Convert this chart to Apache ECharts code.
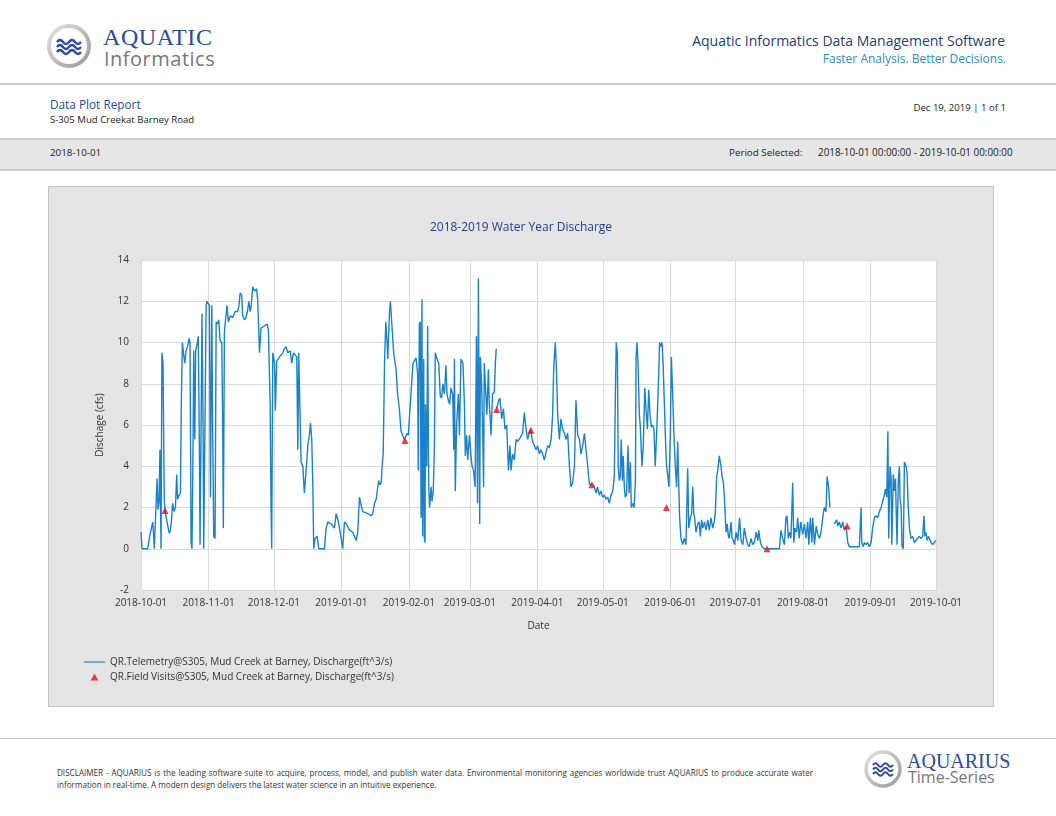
<!DOCTYPE html>
<html>
<head>
<meta charset="utf-8">
<script src="https://cdn.jsdelivr.net/npm/echarts@6/dist/echarts.min.js"></script>
<style>
  body { margin: 0; background: #fff; font-family: "Open Sans", sans-serif; }
  #page { position: relative; width: 1056px; height: 816px; overflow: hidden; }
  .abs { position: absolute; white-space: nowrap; line-height: 1; }
  .hline { position: absolute; left: 0; width: 1056px; background: #c8c8c8; }
  #bar { position: absolute; left: 0; top: 138px; width: 1056px; height: 29px; background: #e6e6e6;
         border-top: 2px solid #cfcfcf; border-bottom: 2px solid #cfcfcf; }
  #chartBox { position: absolute; left: 48px; top: 186px; width: 944px; height: 519px;
              background: #e4e4e4; border: 1px solid #c4c4c4; }
  #main { width: 944px; height: 519px; }
</style>
</head>
<body>
<div id="page">
  <!-- header -->
  <svg class="abs" style="left:44px;top:20px" width="54" height="54">
    <defs>
      <linearGradient id="ring" x1="0" y1="0" x2="1" y2="1">
        <stop offset="0" stop-color="#e2e2e2"/>
        <stop offset="1" stop-color="#9a9a9a"/>
      </linearGradient>
    </defs>
    <circle cx="25" cy="26" r="20" fill="#fff" stroke="url(#ring)" stroke-width="4"/>
    <path d="M13 22 q3 -4 6 0 t6 0 t6 0 t6 0" fill="none" stroke="#2d4b9c" stroke-width="2.4"/>
    <path d="M13 27 q3 -4 6 0 t6 0 t6 0 t6 0" fill="none" stroke="#2d4b9c" stroke-width="2.4"/>
    <path d="M13 32 q3 -4 6 0 t6 0 t6 0 t6 0" fill="none" stroke="#2d4b9c" stroke-width="2.4"/>
  </svg>
  <div class="abs" style="left:103px;top:25px;font-family:'Liberation Serif',serif;font-size:24px;color:#2d4b9c;letter-spacing:0.6px">AQUATIC</div>
  <div class="abs" style="left:104px;top:49px;font-size:20px;color:#777;letter-spacing:0.5px">Informatics</div>
  <div class="abs" style="right:51px;top:34px;font-size:14px;color:#23406e">Aquatic Informatics Data Management Software</div>
  <div class="abs" style="right:50px;top:53px;font-size:12px;color:#2a8cc8">Faster Analysis. Better Decisions.</div>
  <div class="hline" style="top:83px;height:2px"></div>

  <div class="abs" style="left:50px;top:99px;font-size:11.8px;color:#2a4d8f">Data Plot Report</div>
  <div class="abs" style="left:50px;top:115px;font-size:9.6px;color:#222">S-305 Mud Creekat Barney Road</div>
  <div class="abs" style="right:50px;top:103px;font-size:9.6px;color:#222">Dec 19, 2019 | 1 of 1</div>

  <div id="bar"></div>
  <div class="abs" style="left:50px;top:148px;font-size:9.8px;color:#222">2018-10-01</div>
  <div class="abs" style="left:729px;top:148px;font-size:9.8px;color:#222">Period Selected:</div>
  <div class="abs" style="left:818px;top:148px;font-size:9.9px;color:#222">2018-10-01 00:00:00 - 2019-10-01 00:00:00</div>

  <div id="chartBox"><div id="main"></div></div>

  <!-- footer -->
  <div class="hline" style="top:738px;height:1px"></div>
  <div class="abs" style="left:57px;top:767px;font-size:8.1px;color:#333;line-height:12px">
    <div style="width:756px;text-align:justify;text-align-last:justify">DISCLAIMER - AQUARIUS is the leading software suite to acquire, process, model, and publish water data. Environmental monitoring agencies worldwide trust AQUARIUS to produce accurate water</div>
    <div>information in real-time. A modern design delivers the latest water science in an intuitive experience.</div>
  </div>
  <svg class="abs" style="left:861px;top:748px" width="44" height="44">
    <circle cx="22" cy="21" r="17" fill="#fff" stroke="url(#ring)" stroke-width="3.5"/>
    <path d="M12 17 q2.5 -3.5 5 0 t5 0 t5 0 t5 0" fill="none" stroke="#2d4b9c" stroke-width="2"/>
    <path d="M12 21.5 q2.5 -3.5 5 0 t5 0 t5 0 t5 0" fill="none" stroke="#2d4b9c" stroke-width="2"/>
    <path d="M12 26 q2.5 -3.5 5 0 t5 0 t5 0 t5 0" fill="none" stroke="#2d4b9c" stroke-width="2"/>
  </svg>
  <div class="abs" style="left:907px;top:751px;font-family:'Liberation Serif',serif;font-size:20px;color:#2d4b9c">AQUARIUS</div>
  <div class="abs" style="left:908px;top:769px;font-size:16px;color:#777">Time-Series</div>
</div>

<script>
// days since 2018-10-01, discharge (cfs); null = gap in record
var oct18 = [[0,0.8],[0.5,0],[3.1,0],[3.8,0.5],[4.6,0.9],[5.4,1.3],[5.8,0.6],[6.1,0],[6.9,0],[7.4,3.4],[7.8,1.9],[8.3,2.3],[8.7,4.8],[9.2,0],[9.6,9.5],[10.1,9.0],[10.7,2.3],[11.0,1.9],[11.6,1.5],[12.3,1.1],[13.0,0.75],[13.5,0.9],[14.1,1.5],[14.5,2.2],[15.2,1.8],[15.8,2.0],[16.4,3.6],[16.8,2.4],[17.5,2.6],[18.1,2.7],[18.5,7.0],[19.0,10.0],[19.6,9.4],[20.1,9.0],[20.7,9.6],[21.4,9.8],[22.1,10.2],[22.5,10.0],[23.0,0.3],[23.4,0],[23.9,5],[24.2,9.6],[24.7,5.3],[25.1,9.6],[25.7,9.9],[26.3,10.3],[26.8,5],[27.1,0.2],[27.6,6],[28.0,11.4],[28.5,6],[28.8,0],[29.4,0],[29.9,11.8],[30.3,12.0]];
var nov18 = [[30.8,12.0],[31.4,11.8],[31.9,2.5],[32.5,11.8],[32.9,6],[33.4,0.6],[34.0,0.5],[34.5,11.0],[35.2,10.9],[35.7,11.1],[36.3,10.1],[37.1,10.0],[37.5,6],[37.8,1.0],[38.3,10.5],[38.9,11.2],[39.5,11.8],[40.1,11.0],[41.0,11.3],[42.1,11.2],[43.2,11.5],[44.4,11.5],[45.0,11.8],[45.5,12.4],[46.2,12.3],[46.7,11.3],[47.5,11.1],[48.2,11.2],[49.0,11.6],[49.5,12.0],[50.1,11.5],[50.5,11.7],[51.3,12.7],[52.1,12.5],[53.1,12.6],[53.6,12.0],[54.4,9.5],[55.1,10.7],[56.7,10.8],[57.9,10.9],[58.5,10.6],[59.3,7.0],[59.7,2.0],[60.0,0]];
var dec18 = [[60.5,9.5],[61.3,9.0],[61.7,6.7],[62.3,9.1],[63.6,9.3],[65.1,9.5],[65.8,9.7],[66.6,9.8],[67.4,9.5],[68.5,9.6],[69.2,9.0],[70.0,9.5],[70.8,9.5],[71.5,9.3],[72.0,4.8],[72.4,9.5],[73.0,9.5],[73.5,4.2],[74.3,4.0],[75.0,2.7],[75.8,3.8],[76.6,5.0],[77.3,5.5],[77.8,6.1],[78.4,5.3],[78.9,3.0],[79.3,0],[79.9,0.5],[80.9,0.6],[81.6,0],[84.2,0],[85.0,1.0],[85.8,1.3],[86.5,1.3],[87.3,1.2],[88.1,1.2],[88.8,1.0],[89.6,1.7],[90.4,1.4],[91.1,1.0]];
var jan19 = [[91.9,0.5],[92.6,0],[93.1,0],[93.4,1.3],[94.2,1.2],[94.9,1.1],[95.7,0.9],[96.5,0.9],[97.2,0.8],[98.0,0.6],[98.8,0.4],[99.5,0.8],[100.3,2.5],[101.1,2.1],[101.8,1.8],[102.6,1.8],[104.1,1.7],[105.7,1.6],[106.4,1.7],[107.2,2.2],[108.0,2.4],[108.7,3.0],[109.2,3.3],[109.6,3.1],[110.3,3.2],[110.7,4.0],[111.2,4.6],[111.8,9.0],[112.4,11.0],[113.0,10.0],[113.3,9.2],[114.1,11.5],[114.5,12.0],[115.1,11.0],[116.0,9.5],[117.1,8.7],[117.8,7.5],[118.6,6.8],[119.4,5.7],[120.1,5.5],[120.9,5.3],[122.2,5.6],[122.7,5.5]];
var feb19 = [[123.7,7.1],[124.9,9.0],[126.3,9.25],[127.0,8.5],[127.3,3.8],[127.8,10.9],[128.2,11.0],[128.6,1.5],[129.0,12.1],[129.3,0.6],[129.8,9.2],[130.1,0.5],[130.4,0.3],[130.6,7.0],[131.2,4.0],[131.6,10.8],[132.1,3.0],[132.5,2.0],[133.2,3.0],[133.6,2.3],[134.2,2.8],[134.7,5.0],[135.1,9.5],[135.9,9.2],[136.7,9.0],[137.4,7.4],[138.0,7.3],[138.6,8.0],[139.3,7.5],[140.0,8.9],[140.5,7.5],[141.1,7.2],[141.7,7.0],[142.3,7.8],[143.1,7.5],[143.6,4.8],[143.9,9.2],[144.3,2.8],[144.9,6.0],[145.7,7.5],[146.2,5.5],[146.9,9.2],[147.8,9.0],[148.5,7.0],[148.9,4.5],[149.5,5.5],[150.0,4.3]];
var mar19 = [[150.8,5.5],[151.5,4.5],[152.0,4.0],[152.7,3.8],[153.4,3.0],[154.0,10.3],[154.5,2.2],[154.9,13.1],[155.5,1.2],[155.8,9.3],[156.4,8.0],[156.9,5.5],[157.3,3.0],[157.6,9.0],[158.4,9.0],[158.8,6.5],[159.5,8.7],[159.9,7.0],[160.4,6.2],[160.7,5.5],[161.4,7.5],[162.2,7.6],[162.7,9.0],[163.1,9.7],[163.2,null],[163.4,6.8],[164.2,7.2],[164.8,7.3],[165.6,6.3],[166.4,6.8],[167.1,5.8],[167.9,6.0],[168.7,3.8],[169.4,5.0],[169.9,3.8],[170.6,4.6],[171.4,4.3],[172.2,5.3],[172.9,5.2],[174.2,5.4],[175.2,5.6],[176.0,6.6],[176.8,5.8],[177.5,5.3],[178.8,5.8],[179.8,5.2],[180.6,5.0],[181.4,4.8]];
var apr19 = [[182.1,5.0],[182.9,4.6],[183.6,4.8],[184.4,4.6],[185.2,4.3],[186.0,4.7],[186.7,5.0],[187.5,4.9],[188.3,5.3],[189.0,6.5],[189.5,8.8],[190.2,10.0],[190.8,8.5],[191.3,6.5],[192.1,5.3],[192.8,6.3],[193.6,5.8],[194.4,5.6],[195.1,5.3],[195.9,5.6],[196.7,4.0],[197.4,3.0],[198.2,3.2],[199.0,4.0],[199.7,7.2],[200.5,5.5],[201.3,5.3],[202.0,4.6],[202.8,5.0],[203.6,5.6],[204.3,4.8],[205.1,4.0],[205.9,3.1],[207.1,3.15],[208.1,3.0],[208.9,2.7],[209.6,3.0],[210.4,2.6],[211.2,2.8]];
var may19 = [[211.9,2.5],[212.7,2.6],[213.5,2.4],[214.3,2.5],[215.0,2.2],[215.8,2.6],[216.6,2.8],[217.3,3.5],[217.8,7.5],[218.2,10.0],[218.7,9.5],[219.1,4.0],[219.6,3.3],[220.0,3.5],[220.5,5.3],[221.0,3.3],[221.4,4.5],[221.9,3.0],[222.3,2.5],[222.9,2.6],[223.6,5.0],[224.1,2.7],[224.7,4.2],[225.1,2.0],[225.7,2.2],[226.4,2.0],[227.0,3.3],[227.3,9.3],[227.7,10.0],[228.2,9.0],[228.8,6.5],[229.2,6.0],[230.0,4.0],[230.6,5.0],[231.3,7.8],[231.9,6.7],[232.5,5.8],[233.1,7.7],[233.7,6.5],[234.3,5.9],[234.9,6.0],[235.5,5.8],[236.1,4.0],[236.9,6.0],[237.7,8.5],[238.1,10.0],[238.8,9.8],[239.2,10.0],[239.7,9.0],[240.3,7.0],[240.9,5.0],[241.3,4.0],[241.9,3.5],[242.4,3.0]];
var jun19 = [[243.0,5.5],[243.5,9.3],[244.1,7.5],[244.7,5.5],[245.3,4.0],[245.9,3.0],[246.4,5.2],[246.8,3.5],[247.3,1.5],[247.9,0.5],[248.7,0.2],[249.4,0.5],[250.2,0.2],[251.0,3.9],[251.5,1.0],[252.2,1.5],[252.8,1.7],[253.3,3.0],[253.8,1.7],[254.2,1.5],[254.8,0.8],[255.6,1.2],[256.3,1.3],[256.8,0.6],[257.4,1.4],[257.9,1.0],[258.7,1.3],[259.4,0.9],[260.2,1.4],[260.9,0.9],[261.7,1.5],[262.5,1.0],[263.2,1.3],[263.7,1.8],[264.3,3.5],[264.8,3.8],[265.5,4.5],[266.3,4.0],[266.8,3.5],[267.4,3.2],[267.8,2.6],[268.3,1.5],[268.6,0.8],[269.1,1.2],[269.7,0.6],[270.1,0.5],[270.9,1.3],[271.4,0.5],[272.0,0.4]];
var jul19 = [[272.5,0.2],[273.2,0.8],[274.0,0.4],[274.8,1.5],[275.5,0.4],[276.3,0.2],[277.0,1.0],[277.8,0.5],[278.6,0.2],[279.3,0.1],[280.1,0.5],[280.9,0.2],[281.6,0.3],[282.4,0.8],[283.2,0.4],[283.6,0.9],[284.4,0.3],[285.1,0.1],[286.2,0],[293.1,0],[293.8,0.9],[294.6,0.5],[295.4,0.2],[296.1,1.5],[296.6,1.6],[297.2,0.5],[297.9,0.8],[298.4,0.5],[299.2,3.2],[299.7,0.3],[300.3,1.0],[301.0,0.8],[301.5,1.5],[302.2,0.5],[302.9,1.3]];
var aug19 = [[303.8,0.7],[304.6,1.2],[305.3,0.5],[306.1,1.3],[306.6,0.2],[307.3,1.5],[308.0,0.3],[308.4,1.5],[309.2,0.2],[310.0,1.1],[310.7,0.7],[311.5,0.5],[312.2,0.8],[313.0,1.5],[313.7,2.0],[314.5,1.8],[315.0,3.5],[315.7,3.0],[316.3,2.0],[316.4,null],[318.3,1.2],[318.8,1.3],[319.4,1.4],[319.9,1.1],[320.6,1.3],[321.4,1.0],[322.2,1.3],[322.9,0.9],[323.7,1.1],[324.5,0.3],[325.2,0.1],[326.0,0.1],[329.8,0.1],[330.6,2.0],[330.9,0.3],[331.6,0.1],[332.1,0.3],[332.9,0.2],[333.6,0.3]];
var sep19 = [[334.4,0.1],[335.2,0.3],[335.9,1.0],[336.7,1.5],[337.5,1.6],[338.2,1.5],[339.0,1.8],[339.8,2.0],[340.5,2.3],[341.3,2.6],[341.8,2.9],[342.4,2.5],[342.9,5.7],[343.3,0.5],[343.9,4.0],[344.4,3.4],[344.7,0.2],[345.4,3.6],[345.9,2.8],[346.4,3.4],[346.7,2.0],[347.1,0.2],[347.7,3.3],[348.2,4.0],[348.5,2.4],[349.0,2.0],[349.4,0.1],[350.0,0],[350.5,4.2],[351.3,4.0],[351.7,3.7],[352.2,2.2],[352.8,1.0],[353.5,0.5],[354.3,0.6],[355.1,0.3],[355.8,0.4],[356.6,0.4],[357.3,0.6],[358.1,0.5],[358.9,0.6],[359.5,1.6],[359.9,0.6],[360.4,0.8],[360.9,0.4],[361.5,0.6],[362.1,0.6],[362.7,0.3],[363.5,0.2],[364.2,0.3],[365.0,0.4]];

// field visit measurements
var visitDays = [11.0, 121.2, 163.3, 179.0, 207.0, 241.2, 287.4, 324.2];
var visitFlow = [1.85, 5.25, 6.75, 5.75, 3.1, 2.0, 0.0, 1.1];

var monthTicks = ['2018-10-01','2018-11-01','2018-12-01','2019-01-01','2019-02-01','2019-03-01','2019-04-01',
                  '2019-05-01','2019-06-01','2019-07-01','2019-08-01','2019-09-01','2019-10-01'];
var yTicks = [-2, 0, 2, 4, 6, 8, 10, 12, 14];

var telemetryName = 'QR.Telemetry@S305, Mud Creek at Barney, Discharge(ft^3/s)';
var visitName = 'QR.Field Visits@S305, Mud Creek at Barney, Discharge(ft^3/s)';

var START = Date.UTC(2018, 9, 1);
var DAY = 86400000;
function toTime(d) { return START + d * DAY; }

var allFlow = [].concat(oct18, nov18, dec18, jan19, feb19, mar19, apr19, may19, jun19, jul19, aug19, sep19);
var lineData = allFlow.map(function (p) { return [toTime(p[0]), p[1] === null ? '-' : p[1]]; });
var visitData = visitDays.map(function (d, i) { return [toTime(d), visitFlow[i]]; });
var tickTimes = monthTicks.map(function (s) { return Date.parse(s + 'T00:00:00Z'); });

function fmtDate(v) {
  var d = new Date(v);
  var m = d.getUTCMonth() + 1, day = d.getUTCDate();
  return d.getUTCFullYear() + '-' + (m < 10 ? '0' : '') + m + '-' + (day < 10 ? '0' : '') + day;
}

var FONT = 'Open Sans';
var myChart = echarts.init(document.getElementById('main'));
var option = {
  useUTC: true,
  animation: false,
  textStyle: { fontFamily: FONT },
  title: {
    text: '2018-2019 Water Year Discharge',
    left: 'center',
    top: 30,
    textStyle: { fontSize: 12, fontWeight: 'normal', color: '#23408e', fontFamily: FONT }
  },
  grid: { left: 92, top: 73, width: 795, height: 330, show: true, backgroundColor: '#fff', borderWidth: 0 },
  legend: {
    orient: 'vertical',
    left: 35,
    top: 470,
    padding: 0,
    itemWidth: 21,
    itemHeight: 7,
    itemGap: 5,
    textStyle: { fontSize: 10, color: '#333', fontFamily: FONT },
    data: [
      { name: telemetryName, icon: 'path://M0,0L22,0L22,1.2L0,1.2Z' },
      { name: visitName, icon: 'path://M5,0L10,9L0,9Z' }
    ]
  },
  xAxis: {
    type: 'time',
    min: tickTimes[0],
    max: tickTimes[tickTimes.length - 1],
    splitNumber: 12,
    name: 'Date',
    nameLocation: 'middle',
    nameGap: 31,
    nameTextStyle: { fontSize: 10, color: '#333' },
    axisLine: { show: false },
    axisTick: { show: false },
    axisLabel: {
      fontSize: 10, color: '#333', margin: 8, hideOverlap: false,
      formatter: function (v) { return fmtDate(v); }
    },
    splitLine: { show: true, lineStyle: { color: '#d9d9d9', width: 1 } }
  },
  yAxis: {
    type: 'value',
    min: yTicks[0],
    max: yTicks[yTicks.length - 1],
    interval: 2,
    name: 'Dischage (cfs)',
    nameLocation: 'middle',
    nameGap: 36,
    nameTextStyle: { fontSize: 10, color: '#333' },
    axisLine: { show: false },
    axisTick: { show: false },
    axisLabel: { fontSize: 10, color: '#333', margin: 12 },
    splitLine: { lineStyle: { color: '#d9d9d9', width: 1 } }
  },
  series: [
    {
      name: telemetryName,
      type: 'line',
      data: lineData,
      symbol: 'none',
      connectNulls: false,
      lineStyle: { color: '#1b82c9', width: 1.4 },
      itemStyle: { color: '#1b82c9' },
      z: 2
    },
    {
      name: visitName,
      type: 'scatter',
      data: visitData,
      symbol: 'triangle',
      symbolSize: 7,
      itemStyle: { color: '#e3101a' },
      z: 3
    }
  ]
};
myChart.setOption(option);
</script>
</body>
</html>
